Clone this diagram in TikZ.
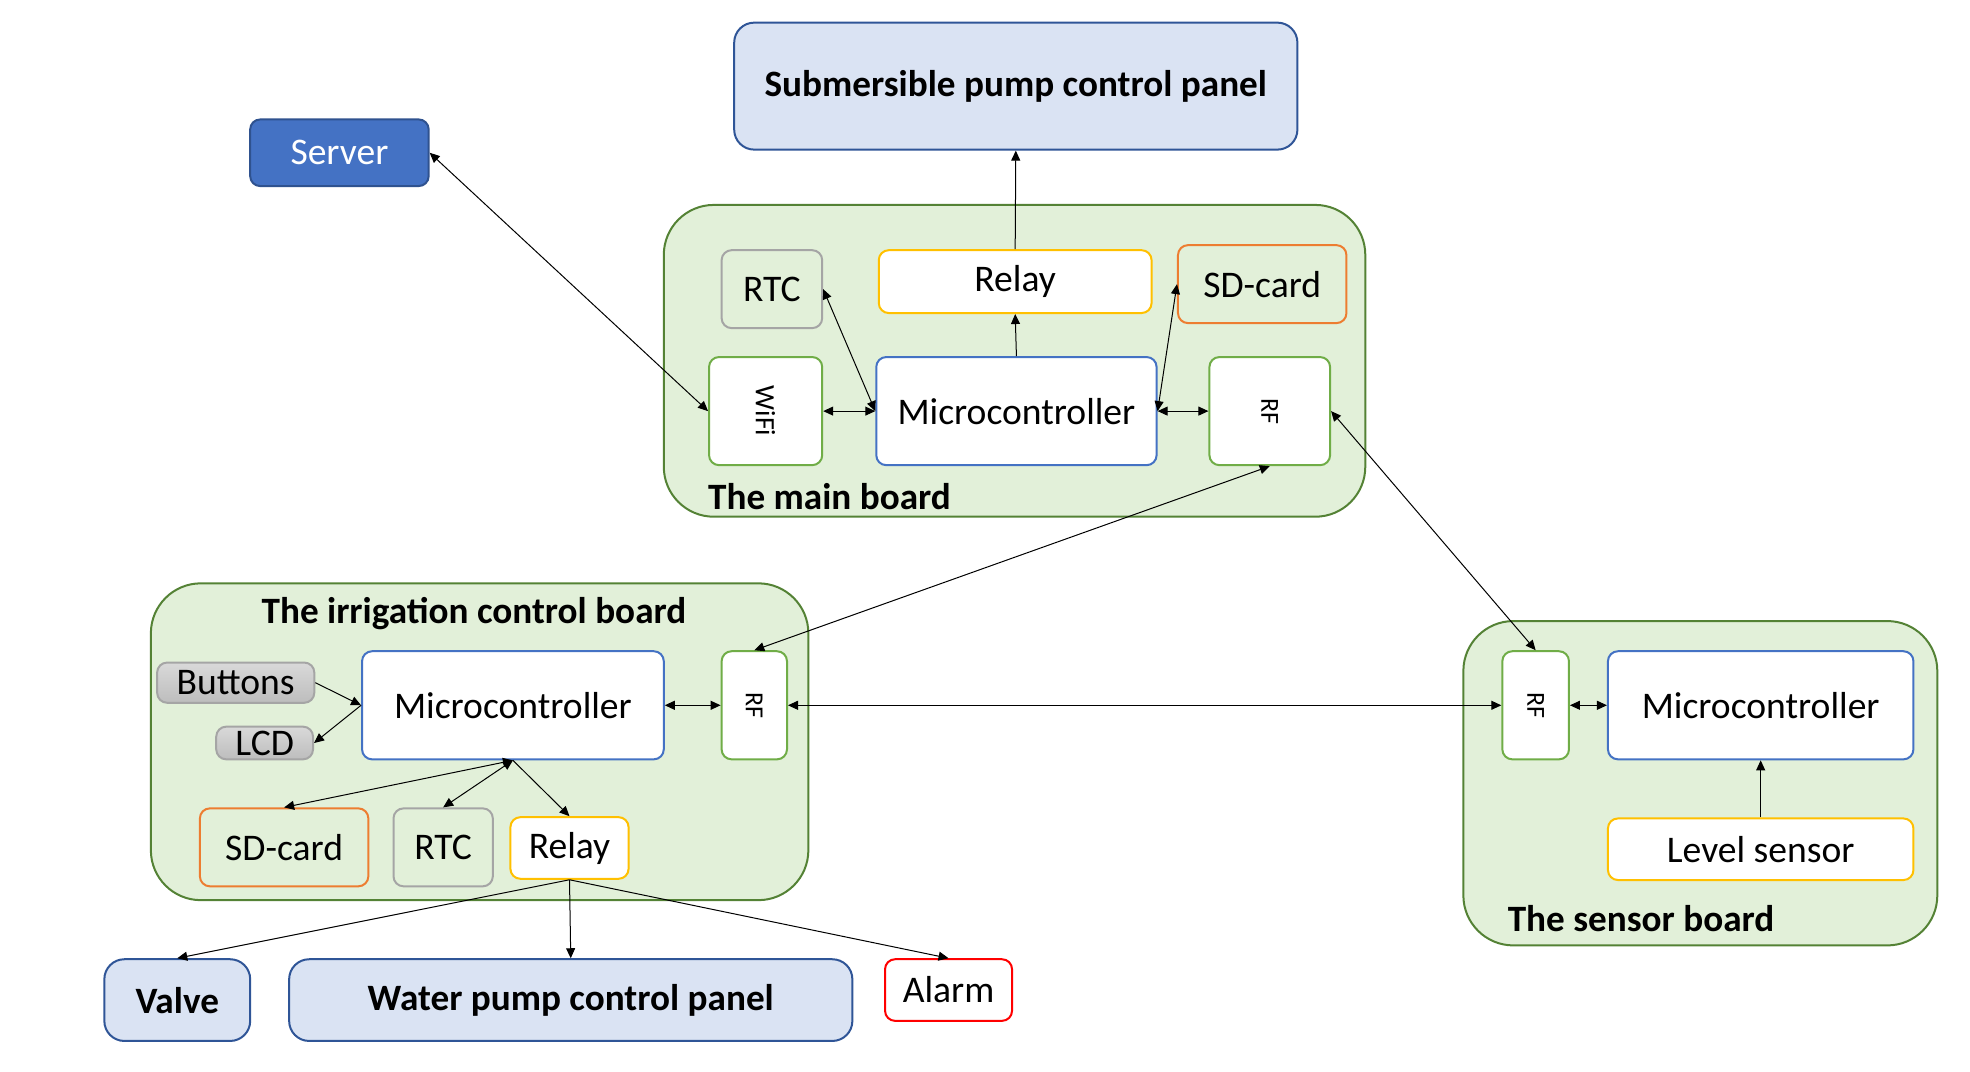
\documentclass[tikz,border=0pt]{standalone}
\usepackage{fontspec}
\setmainfont{Carlito}
\usetikzlibrary{arrows.meta}
\definecolor{panelfill}{HTML}{DAE3F3}
\definecolor{paneldraw}{HTML}{2F5597}
\definecolor{serverfill}{HTML}{4472C4}
\definecolor{serverdraw}{HTML}{2F528F}
\definecolor{boardfill}{HTML}{E2F0D9}
\definecolor{boarddraw}{HTML}{548235}
\definecolor{rtcdraw}{HTML}{A5A5A5}
\definecolor{relaydraw}{HTML}{FFC000}
\definecolor{sddraw}{HTML}{ED7D31}
\definecolor{rfdraw}{HTML}{70AD47}
\definecolor{mcudraw}{HTML}{4472C4}
\definecolor{alarmdraw}{HTML}{FF0000}
\definecolor{btntop}{HTML}{D9D9D9}
\definecolor{btnbot}{HTML}{BDBDBD}
\def\myunit{0.6286pt}
\def\mybox#1#2(#3,#4,#5,#6)#7{\node[#1,minimum width={(#5-#3)*\myunit},minimum height={(#6-#4)*\myunit}] (#2) at ({(#3+#5)/2},{(#4+#6)/2}) {#7};}
\begin{document}
\begin{tikzpicture}[x=0.6286pt,y=-0.6286pt,
  base/.style={draw, rounded corners=5pt, inner sep=0pt, line width=1pt, font=\fontsize{18.8}{22}\selectfont, align=center},
  panel/.style={base, fill=panelfill, draw=paneldraw, rounded corners=10pt, font=\fontsize{18.6}{22}\selectfont\bfseries},
  server/.style={base, fill=serverfill, draw=serverdraw, text=white},
  board/.style={base, fill=boardfill, draw=boarddraw, rounded corners=25pt},
  rtc/.style={base, draw=rtcdraw},
  relay/.style={base, fill=white, draw=relaydraw},
  sd/.style={base, draw=sddraw},
  rf/.style={base, fill=white, draw=rfdraw, font=\fontsize{13}{15}\selectfont},
  wifi/.style={base, fill=white, draw=rfdraw, font=\fontsize{14}{16}\selectfont},
  mcu/.style={base, fill=white, draw=mcudraw},
  alarm/.style={base, fill=white, draw=alarmdraw},
  btn/.style={base, top color=btntop, bottom color=btnbot, draw=rtcdraw},
  boardlabel/.style={inner sep=0pt, font=\fontsize{18.6}{22}\selectfont\bfseries},
  conn/.style={line width=0.5pt, -{Triangle[length=5pt,width=4.5pt]}},
  bconn/.style={line width=0.5pt, {Triangle[length=5pt,width=4.5pt]}-{Triangle[length=5pt,width=4.5pt]}}
]
\useasboundingbox (0,0) rectangle (1567,852);

% boards
\mybox{board}{mainboard}(528,163,1086,411){}
\mybox{board}{irrboard}(120,464,643,716){}
\mybox{board}{sensboard}(1164,494,1541,752){}
\node[boardlabel, anchor=west] (mainlabel) at (563,395) {The main board};
\node[boardlabel] (irrlabel) at (377,488) {The irrigation control board};
\node[boardlabel, anchor=west] (senslabel) at (1199,731) {The sensor board};

% top
\mybox{panel}{subpanel}(584,18,1032,119){Submersible pump control panel}
\mybox{server}{server}(199,95,341,148){Server}

% main board
\mybox{rtc}{mrtc}(574,199,654,261){RTC}
\mybox{relay}{mrelay}(699,199,916,249){Relay}
\mybox{sd}{msd}(937,195,1071,257){SD-card}
\mybox{wifi}{wifi}(564,284,654,370){\rotatebox{-90}{WiFi}}
\mybox{mcu}{mmcu}(697,284,920,370){Microcontroller}
\mybox{rf}{mrf}(962,284,1058,370){\rotatebox{-90}{RF}}

% irrigation board
\mybox{btn}{buttons}(125,527,250,559){Buttons}
\mybox{btn}{lcd}(172,578,249,604){LCD}
\mybox{mcu}{imcu}(288,518,528,604){Microcontroller}
\mybox{rf}{irf}(574,518,626,604){\rotatebox{-90}{RF}}
\mybox{sd}{isd}(159,643,293,705){SD-card}
\mybox{rtc}{irtc}(313,643,392,705){RTC}
\mybox{relay}{irelay}(406,650,500,699){Relay}

% outputs
\mybox{panel}{valve}(83,763,199,828){Valve}
\mybox{panel}{waterpanel}(230,763,678,828){Water pump control panel}
\mybox{alarm}{alarm}(704,763,805,812){Alarm}

% sensor board
\mybox{rf}{srf}(1195,518,1248,604){\rotatebox{-90}{RF}}
\mybox{mcu}{smcu}(1279,518,1522,604){Microcontroller}
\mybox{relay}{level}(1279,651,1522,700){Level sensor}

% connectors main
\draw[bconn] (server.east) -- (wifi.west);
\draw[bconn] (wifi.east) -- (mmcu.west);
\draw[bconn] (mrtc.east) -- (mmcu.west);
\draw[conn] (mmcu.north) -- (mrelay.south);
\draw[conn] (mrelay.north) -- (subpanel.south);
\draw[bconn] (mmcu.east) -- (msd.west);
\draw[bconn] (mmcu.east) -- (mrf.west);
\draw[bconn] (mrf.south) -- (irf.north);
\draw[bconn] (mrf.east) -- (srf.north);

% connectors irrigation
\draw[conn] (buttons.east) -- (imcu.west);
\draw[conn] (imcu.west) -- (lcd.east);
\draw[bconn] (imcu.east) -- (irf.west);
\draw[bconn] (irf.east) -- (srf.west);
\draw[bconn] (imcu.south) -- (isd.north);
\draw[bconn] (imcu.south) -- (irtc.north);
\draw[conn] (imcu.south) -- (irelay.north);
\draw[conn] (irelay.south) -- (valve.north);
\draw[conn] (irelay.south) -- (waterpanel.north);
\draw[conn] (irelay.south) -- (alarm.north);

% connectors sensor
\draw[bconn] (srf.east) -- (smcu.west);
\draw[conn] (level.north) -- (smcu.south);
\end{tikzpicture}
\end{document}
